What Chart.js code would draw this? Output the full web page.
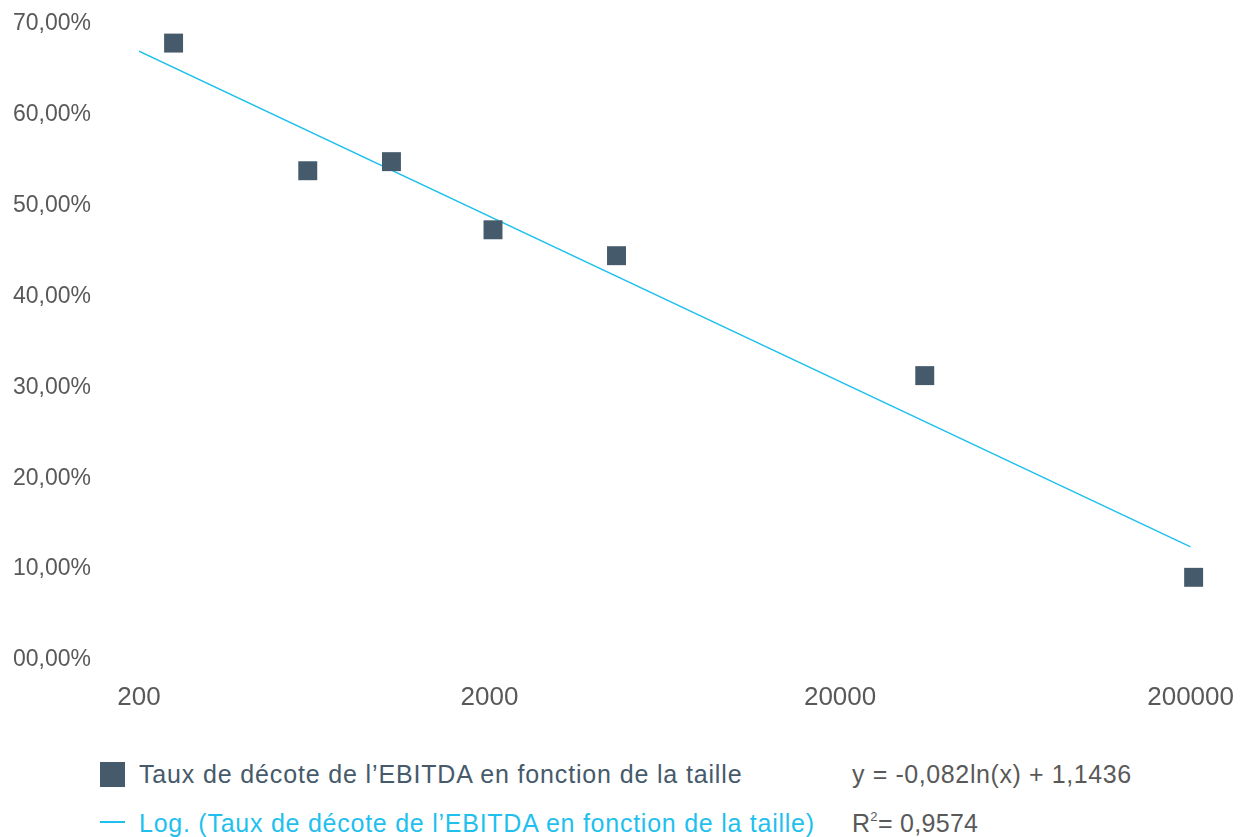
<!DOCTYPE html>
<html lang="fr">
<head>
<meta charset="utf-8">
<title>Taux de décote de l’EBITDA</title>
<script src="https://cdn.jsdelivr.net/npm/chart.js@4"></script>
<style>
  html, body { margin: 0; background: #fff; overflow: hidden; font-family: "Liberation Sans", Arial, sans-serif; }
  #wrap { position: absolute; left: 0; top: 0; width: 1256px; height: 720px; }
  .leg { position: absolute; font-size: 25px; line-height: 25px; white-space: nowrap; }
  .sq { position: absolute; left: 100px; top: 762px; width: 25px; height: 25px; background: #455a6a; }
  .dash { position: absolute; left: 100px; top: 821px; width: 25px; height: 2px; background: #1fc0ee; }
  sup { font-size: 13px; vertical-align: 11px; line-height: 0; }
</style>
</head>
<body>
<div id="wrap"><canvas id="chart"></canvas></div>

<div class="sq"></div>
<div class="leg" style="left:139px; top:762px; color:#465a6b; letter-spacing:0.85px;">Taux de décote de l’EBITDA en fonction de la taille</div>
<div class="leg" style="left:852px; top:762px; color:#595959; letter-spacing:0.6px;">y = -0,082ln(x) + 1,1436</div>
<div class="dash"></div>
<div class="leg" style="left:139px; top:811px; color:#1fc0ee; letter-spacing:0.75px;">Log. (Taux de décote de l’EBITDA en fonction de la taille)</div>
<div class="leg" style="left:852px; top:811px; color:#595959; letter-spacing:0.3px;">R<sup>2</sup>= 0,9574</div>

<script>
// taille (x) et taux de décote (y)
const tailles = [251, 606, 1050, 2046, 4605, 34880, 204000];
const decotes = [0.679, 0.5385, 0.5485, 0.4735, 0.445, 0.313, 0.091];

// extrémités de la courbe de tendance logarithmique
const tendanceX = [200, 200000];
const tendanceY = [0.670, 0.1245];

const xTicks = [200, 2000, 20000, 200000];
const yTicks = [0, 0.1, 0.2, 0.3, 0.4, 0.5, 0.6, 0.7];

const points = tailles.map((x, i) => ({ x: x, y: decotes[i] }));
const tendance = tendanceX.map((x, i) => ({ x: x, y: tendanceY[i] }));

const ctx = document.getElementById("chart").getContext("2d");
new Chart(ctx, {
  type: "scatter",
  data: {
    datasets: [
      {
        label: "Taux de décote de l’EBITDA en fonction de la taille",
        data: points,
        pointStyle: "rect",
        pointRadius: 13.4,
        pointHoverRadius: 13.4,
        pointBorderWidth: 0,
        backgroundColor: "#455a6a",
        borderColor: "#455a6a",
        clip: false,
        order: 1
      },
      {
        type: "line",
        label: "Log. (Taux de décote de l’EBITDA en fonction de la taille)",
        data: tendance,
        borderColor: "#1fc0ee",
        borderWidth: 1.5,
        pointRadius: 0,
        fill: false,
        order: 2
      }
    ]
  },
  options: {
    responsive: true,
    maintainAspectRatio: false,
    animation: false,
    layout: { padding: { left: 13, top: 24, right: 59, bottom: 0 } },
    plugins: {
      legend: { display: false },
      tooltip: { enabled: false }
    },
    scales: {
      x: {
        type: "logarithmic",
        min: 200,
        max: 200000,
        grid: { display: false, drawTicks: false },
        border: { display: false },
        afterBuildTicks: scale => { scale.ticks = xTicks.map(v => ({ value: v })); },
        afterFit: scale => { scale.height = 60; },
        ticks: {
          color: "#595959",
          padding: 22,
          font: { family: "Liberation Sans", size: 26 },
          callback: v => String(v)
        }
      },
      y: {
        min: 0,
        max: 0.7,
        grid: { display: false, drawTicks: false },
        border: { display: false },
        afterBuildTicks: scale => { scale.ticks = yTicks.map(v => ({ value: v })); },
        afterFit: scale => { scale.width = 126; },
        ticks: {
          color: "#595959",
          crossAlign: "far",
          font: { family: "Liberation Sans", size: 23 },
          callback: v => String(Math.round(v * 100)).padStart(2, "0") + ",00%"
        }
      }
    }
  }
});
</script>
</body>
</html>
